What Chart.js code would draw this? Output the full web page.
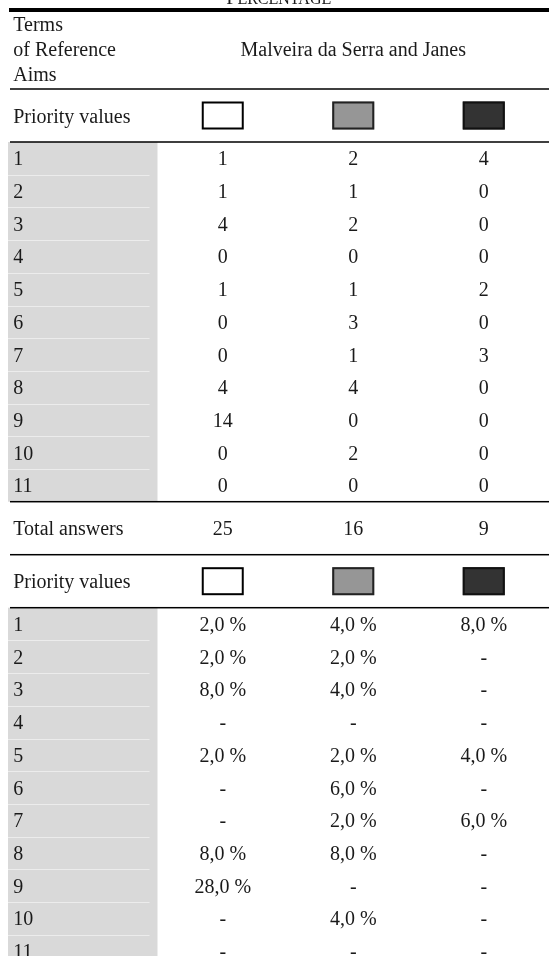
<!DOCTYPE html>
<html>
<head>
<meta charset="utf-8">
<script src="https://cdn.jsdelivr.net/npm/chart.js@4.4.1/dist/chart.umd.min.js"></script>
<style>
  html, body { margin: 0; padding: 0; background: #fff; }
  canvas { display: block; }
</style>
</head>
<body>
<canvas id="table-area" width="549" height="956"></canvas>
<script>
'use strict';

const title = 'PERCENTAGE';
const headerLeft = ['Terms', 'of Reference', 'Aims'];
const place = 'Malveira da Serra and Janes';
const priorityLabel = 'Priority values';
const totalLabel = 'Total answers';
const aims = ['1', '2', '3', '4', '5', '6', '7', '8', '9', '10', '11'];

// answers per priority value (white, grey, dark)
const answersWhite = [1, 1, 4, 0, 1, 0, 0, 4, 14, 0, 0];
const answersGrey  = [2, 1, 2, 0, 1, 3, 1, 4, 0, 2, 0];
const answersDark  = [4, 0, 0, 0, 2, 0, 3, 0, 0, 0, 0];
const totalAnswers = [25, 16, 9];

// percentages, null = '-'
const percentWhite = [2.0, 2.0, 8.0, null, 2.0, null, null, 8.0, 28.0, null, null];
const percentGrey  = [4.0, 2.0, 4.0, null, 2.0, 6.0, 2.0, 8.0, null, 4.0, null];
const percentDark  = [8.0, null, null, null, 4.0, null, 6.0, null, null, null, null];

// layout / style
const W = 549, H = 956;
const columns = ['aim', 'white', 'grey', 'dark'];
const swatchFill = ['#ffffff', '#969696', '#333333'];
const swatchLine = ['#000000', '#222222', '#111111'];
const headerBase = [31, 56, 81];
const headerRule = 89;
const bandH = 53;
const rowH = 32.7;
const font = '"Liberation Serif", "Times New Roman", serif';
const ink = '#1a1a1a';

const block1Top = headerRule + bandH;
const totalTop = block1Top + aims.length * rowH;
const priority2Top = totalTop + bandH;
const block2Top = priority2Top + bandH;
const rules = [headerRule, block1Top, totalTop, priority2Top, block2Top];

var rowMids = (top) => aims.map((a, i) => top + (i + 0.5) * rowH);
var pct = (v) => (v === null) ? '-' : v.toFixed(1).replace('.', ',') + ' %';

var cells = (col, ys, texts, extra) => Object.assign({
  data: ys.map(y => ({x: col, y: y})),
  texts: texts
}, extra || {});

var datasets = [
  cells('aim', headerBase, headerLeft, {left: true, baseline: true}),
  cells('grey', [headerBase[1]], [place], {baseline: true}),
  cells('aim', [headerRule + bandH / 2, priority2Top + bandH / 2], [priorityLabel, priorityLabel], {left: true}),
  cells('white', [headerRule + bandH / 2, priority2Top + bandH / 2], ['', ''], {swatch: 0}),
  cells('grey', [headerRule + bandH / 2, priority2Top + bandH / 2], ['', ''], {swatch: 1}),
  cells('dark', [headerRule + bandH / 2, priority2Top + bandH / 2], ['', ''], {swatch: 2}),
  cells('aim', rowMids(block1Top), aims, {left: true}),
  cells('white', rowMids(block1Top), answersWhite.map(String)),
  cells('grey', rowMids(block1Top), answersGrey.map(String)),
  cells('dark', rowMids(block1Top), answersDark.map(String)),
  cells('aim', [totalTop + bandH / 2], [totalLabel], {left: true}),
  cells('white', [totalTop + bandH / 2], [String(totalAnswers[0])]),
  cells('grey', [totalTop + bandH / 2], [String(totalAnswers[1])]),
  cells('dark', [totalTop + bandH / 2], [String(totalAnswers[2])]),
  cells('aim', rowMids(block2Top), aims, {left: true}),
  cells('white', rowMids(block2Top), percentWhite.map(pct)),
  cells('grey', rowMids(block2Top), percentGrey.map(pct)),
  cells('dark', rowMids(block2Top), percentDark.map(pct))
];

var tableDraw = {
  id: 'tableDraw',
  beforeDatasetsDraw(chart) {
    const ctx = chart.ctx, xs = chart.scales.x, ys = chart.scales.y;
    const greyL = chart.chartArea.left - 19;
    const greyR = (xs.getPixelForValue(0) + xs.getPixelForValue(1)) / 2;
    ctx.save();
    // grey first column of both blocks
    ctx.fillStyle = '#d9d9d9';
    [block1Top, block2Top].forEach(top => {
      const y0 = ys.getPixelForValue(top);
      const y1 = ys.getPixelForValue(top + aims.length * rowH);
      ctx.fillRect(greyL, y0, greyR - greyL, y1 - y0);
      ctx.fillStyle = '#ececec';
      for (let i = 1; i < aims.length; i++) {
        const y = ys.getPixelForValue(top + i * rowH);
        ctx.fillRect(greyL, Math.round(y), greyR - greyL - 8, 1);
      }
      ctx.fillStyle = '#d9d9d9';
    });
    // rules
    ctx.fillStyle = '#000';
    ctx.fillRect(greyL + 1, ys.getPixelForValue(8), W - greyL, 4);
    rules.forEach(r => {
      ctx.fillRect(greyL + 2, ys.getPixelForValue(r) - 0.75, W - greyL, 1.5);
    });
    // small caps title, mostly cut off at the top
    const cx = xs.getPixelForValue(1) + 56;
    ctx.fillStyle = ink;
    ctx.textBaseline = 'alphabetic';
    ctx.font = '20px ' + font;
    const pw = ctx.measureText(title[0]).width;
    ctx.font = '16px ' + font;
    const rw = ctx.measureText(title.slice(1)).width;
    const x0 = cx - (pw + rw) / 2;
    ctx.textAlign = 'left';
    ctx.font = '20px ' + font;
    ctx.fillText(title[0], x0, ys.getPixelForValue(4));
    ctx.font = '16px ' + font;
    ctx.fillText(title.slice(1), x0 + pw, ys.getPixelForValue(4));
    ctx.restore();
  },
  afterDatasetsDraw(chart) {
    const ctx = chart.ctx;
    ctx.save();
    ctx.font = '20px ' + font;
    ctx.fillStyle = ink;
    ctx.textBaseline = 'alphabetic';
    chart.data.datasets.forEach((ds, di) => {
      chart.getDatasetMeta(di).data.forEach((pt, i) => {
        if (ds.swatch !== undefined) {
          ctx.fillStyle = swatchFill[ds.swatch];
          ctx.fillRect(pt.x - 21, pt.y - 14, 42, 28);
          ctx.strokeStyle = swatchLine[ds.swatch];
          ctx.lineWidth = 2;
          ctx.strokeRect(pt.x - 20, pt.y - 13, 40, 26);
          ctx.fillStyle = ink;
          return;
        }
        ctx.textAlign = ds.left ? 'left' : 'center';
        const x = ds.left ? pt.x - 79 : pt.x;
        const y = ds.baseline ? pt.y : pt.y + 7;
        ctx.fillText(ds.texts[i], x, y);
      });
    });
    ctx.restore();
  }
};

var config = {
  type: 'scatter',
  data: { datasets: datasets },
  options: {
    responsive: false,
    animation: false,
    events: [],
    layout: { padding: {left: 27, right: 0, top: 0, bottom: 0} },
    elements: { point: { radius: 0, hoverRadius: 0 } },
    plugins: { legend: {display: false}, tooltip: {enabled: false} },
    scales: {
      x: { type: 'category', labels: columns, offset: true, display: false },
      y: { type: 'linear', min: 0, max: H, reverse: true, display: false }
    }
  },
  plugins: [tableDraw]
};

window.onload = function() {
  var ctx = document.getElementById('table-area').getContext('2d');
  window.myTable = new Chart(ctx, config);
};
</script>
</body>
</html>
